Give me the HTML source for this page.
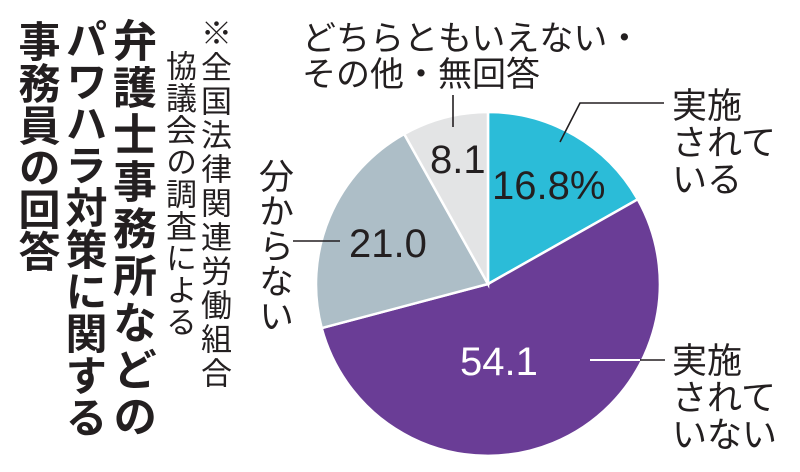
<!DOCTYPE html>
<html><head><meta charset="utf-8"><style>
body{margin:0;width:800px;height:472px;background:#fff;overflow:hidden;position:relative;font-family:"Liberation Sans","Noto Sans CJK JP",sans-serif;color:#231f20}
.v{position:absolute;writing-mode:vertical-rl;white-space:nowrap;line-height:1}
.t{position:absolute;white-space:nowrap;line-height:1}
</style></head><body>
<div class="v" style="left:108px;top:18px;font-size:44px;font-weight:bold;letter-spacing:3px">弁護士事務所などの</div>
<div class="v" style="left:62px;top:18px;font-size:42px;font-weight:bold;letter-spacing:0px">パワハラ対策に関する</div>
<div class="v" style="left:15px;top:20px;font-size:42px;font-weight:bold;letter-spacing:0px">事務員の回答</div>
<div class="v" style="left:198px;top:17px;font-size:31px;letter-spacing:3px">※全国法律関連労働組合</div>
<div class="v" style="left:163px;top:50px;font-size:31px;letter-spacing:1px">協議会の調査による</div>
<svg width="800" height="472" style="position:absolute;left:0;top:0">
<g stroke="#fff" stroke-width="2.5">
<path d="M488,284 L488,112 A172,172 0 0 1 637.7,199.3 Z" fill="#2bbcd8"/>
<path d="M488,284 L637.7,199.3 A172,172 0 1 1 321.7,328.1 Z" fill="#6a3d96"/>
<path d="M488,284 L321.7,328.1 A172,172 0 0 1 404.2,134.0 Z" fill="#adbec7"/>
<path d="M488,284 L404.2,134.0 A172,172 0 0 1 488,112 Z" fill="#e3e4e5"/>
</g>
<g stroke="#231f20" stroke-width="1.6" fill="none">
<line x1="453" y1="95" x2="453" y2="127"/>
<line x1="293" y1="241" x2="340" y2="241"/>
<polyline points="664,103 580,103 560,142"/>
<line x1="637" y1="360" x2="665" y2="360"/>
</g>
<line x1="590" y1="360" x2="640" y2="360" stroke="#fff" stroke-width="2"/>
</svg>
<div class="t" style="left:302px;top:22px;font-size:34px">どちらともいえない・</div>
<div class="t" style="left:302px;top:58px;font-size:34px">その他・無回答</div>
<div class="t" style="left:672px;top:88px;font-size:35px;line-height:37px">実施<br>されて<br>いる</div>
<div class="t" style="left:672px;top:343px;font-size:35px;line-height:37px">実施<br>されて<br>いない</div>
<div class="v" style="left:256px;top:158px;font-size:35px">分からない</div>
<div class="t" style="left:492px;top:166px;font-size:40px">16.8%</div>
<div class="t" style="left:430px;top:140px;font-size:40px">8.1</div>
<div class="t" style="left:349px;top:224px;font-size:40px">21.0</div>
<div class="t" style="left:460px;top:342px;font-size:40px;color:#fff">54.1</div>
</body></html>
